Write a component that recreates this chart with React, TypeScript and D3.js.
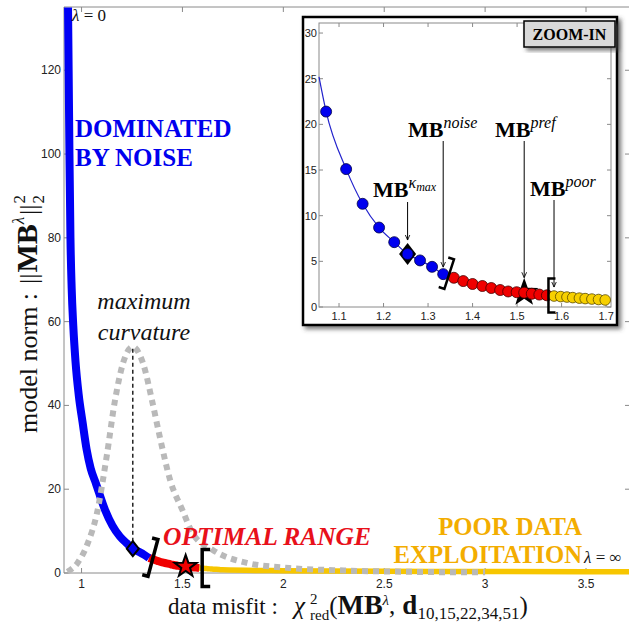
import React from 'react';
import * as d3 from 'd3';

// ---------- data ----------
const mainXTicks = [1, 1.5, 2, 2.5, 3, 3.5];
const mainYTicks = [0, 20, 40, 60, 80, 100, 120];
const insetXTicks = [1.1, 1.2, 1.3, 1.4, 1.5, 1.6, 1.7];
const insetYTicks = [0, 5, 10, 15, 20, 25, 30];

// steep (noise-dominated) part of the L-curve
const mainBlueSteep: [number, number][] = [
  [0.933, 135], [0.936, 120], [0.94, 100], [0.945, 80], [0.951, 68], [0.959, 59],
  [0.97, 50.5], [0.986, 42.5], [1.005, 36], [1.025, 29.5], [1.045, 25],
];
const insetLineStart: [number, number] = [1.055, 25.2];
const bluePoints: [number, number][] = [
  [1.071, 21.4], [1.116, 15.1], [1.153, 11.3], [1.19, 8.7], [1.224, 7.1],
  [1.254, 5.8], [1.282, 5.1], [1.309, 4.4], [1.334, 3.6],
];
const redPoints: [number, number][] = [
  [1.358, 3.2], [1.379, 2.84], [1.4, 2.52], [1.422, 2.3], [1.442, 2.08], [1.462, 1.86],
  [1.48, 1.7], [1.499, 1.62], [1.516, 1.57], [1.533, 1.45], [1.55, 1.36], [1.567, 1.28],
];
const yellowPoints: [number, number][] = [
  [1.583, 1.2], [1.598, 1.14], [1.612, 1.09], [1.625, 1.03], [1.64, 0.97],
  [1.653, 0.92], [1.668, 0.87], [1.683, 0.82], [1.698, 0.77],
];
const yellowTail: [number, number][] = [[2.0, 0.55], [2.5, 0.42], [3.0, 0.35], [3.5, 0.3], [3.72, 0.28]];
const curvature: [number, number][] = [
  [0.93, 0.3], [0.98, 2.4], [1.03, 7], [1.075, 14], [1.125, 28], [1.165, 41], [1.205, 50],
  [1.253, 54], [1.305, 50], [1.35, 41], [1.39, 32], [1.44, 22], [1.5, 15], [1.55, 9.5],
  [1.65, 5.5], [1.82, 2.4], [2.03, 1.2], [2.3, 0.6], [2.6, 0.3], [3.0, 0.15],
];
const kappaMax: [number, number] = [1.254, 5.8];
const prefPoint: [number, number] = [1.516, 1.57];
const noisePoint: [number, number] = [1.334, 3.6];
const poorPoint: [number, number] = [1.583, 1.2];

// ---------- helpers ----------
const SERIF = '"Liberation Serif", "Times New Roman", serif';
const SANS = '"Liberation Sans", Arial, sans-serif';

function starPath(R: number, r: number) {
  const pts: string[] = [];
  for (let i = 0; i < 10; i++) {
    const a = -Math.PI / 2 + (i * Math.PI) / 5;
    const rad = i % 2 === 0 ? R : r;
    pts.push(`${(rad * Math.cos(a)).toFixed(2)},${(rad * Math.sin(a)).toFixed(2)}`);
  }
  return 'M' + pts.join('L') + 'Z';
}
const closeBracket = (h: number, s: number) => `M${-s},${-h}L0,${-h}L0,${h}L${-s},${h}`;
const openBracket = (h: number, s: number) => `M${s},${-h}L0,${-h}L0,${h}L${s},${h}`;

export default function App() {
  // main scales
  const x = d3.scaleLinear().domain([0.913, 3.718]).range([64, 630]);
  const y = d3.scaleLinear().domain([0, 135.1]).range([573, 7]);
  // inset scales
  const xi = d3.scaleLinear().domain([1.055, 1.711]).range([319, 611]);
  const yi = d3.scaleLinear().domain([0, 31.1]).range([307, 23]);

  const line = d3.line<[number, number]>().x(d => x(d[0])).y(d => y(d[1])).curve(d3.curveMonotoneX);
  const lineI = d3.line<[number, number]>().x(d => xi(d[0])).y(d => yi(d[1])).curve(d3.curveMonotoneX);

  const bluePath = line([...mainBlueSteep, ...bluePoints]) || '';
  const redPath = line([bluePoints[bluePoints.length - 1], ...redPoints, yellowPoints[0]]) || '';
  const yellowPath = line([...yellowPoints, ...yellowTail]) || '';
  const curvPath = line(curvature) || '';
  const insetPath = lineI([insetLineStart, ...bluePoints, ...redPoints, ...yellowPoints]) || '';

  const axisGray = '#8a8a8a';

  return (
    <svg width={629} height={629} style={{ position: 'absolute', left: 0, top: 0, background: '#fff' }}>
      <defs>
        <filter id="shadow" x="-10%" y="-10%" width="130%" height="130%">
          <feDropShadow dx="3" dy="3" stdDeviation="2" floodColor="#444" floodOpacity="0.7" />
        </filter>
        <marker id="arrow" viewBox="0 0 10 10" refX="9" refY="5" markerWidth="6" markerHeight="6" orient="auto">
          <path d="M0,1L9,5L0,9" fill="none" stroke="#000" strokeWidth="1.4" />
        </marker>
      </defs>
      <rect width={629} height={629} fill="#fff" />

      {/* ---------- main axes ---------- */}
      <g>
        <line x1={x.range()[0]} x2={x.range()[1]} y1={y(0)} y2={y(0)} stroke={axisGray} strokeWidth={1} />
        <line x1={x.range()[0]} x2={x.range()[1]} y1={y.range()[1]} y2={y.range()[1]} stroke={axisGray} strokeWidth={1} />
        <line x1={x.range()[0]} x2={x.range()[0]} y1={y.range()[0]} y2={y.range()[1]} stroke={axisGray} strokeWidth={1} />
        <line x1={x.range()[1]} x2={x.range()[1]} y1={y.range()[0]} y2={y.range()[1]} stroke={axisGray} strokeWidth={1} />
        {mainXTicks.map(t => (
          <g key={'mx' + t}>
            <line x1={x(t)} x2={x(t)} y1={y(0)} y2={y(0) - 5} stroke={axisGray} />
            <line x1={x(t)} x2={x(t)} y1={y.range()[1]} y2={y.range()[1] + 5} stroke={axisGray} />
            <text x={x(t)} y={y(0) + 15} textAnchor="middle" fontFamily={SANS} fontSize={12} fill="#222">{t}</text>
          </g>
        ))}
        {mainYTicks.map(t => (
          <g key={'my' + t}>
            <line x1={x.range()[0]} x2={x.range()[0] + 5} y1={y(t)} y2={y(t)} stroke={axisGray} />
            <line x1={x.range()[1]} x2={x.range()[1] - 5} y1={y(t)} y2={y(t)} stroke={axisGray} />
            <text x={x.range()[0] - 3} y={y(t) + 4} textAnchor="end" fontFamily={SANS} fontSize={12} fill="#222">{t}</text>
          </g>
        ))}
      </g>

      {/* ---------- main curves ---------- */}
      <path d={yellowPath} fill="none" stroke="#f7c600" strokeWidth={5.5} strokeLinecap="butt" />
      <path d={redPath} fill="none" stroke="#f00000" strokeWidth={8} strokeLinecap="butt" />
      <path d={bluePath} fill="none" stroke="#0000f5" strokeWidth={8} strokeLinecap="butt" />
      <path d={curvPath} fill="none" stroke="#b9b9b9" strokeWidth={6} strokeDasharray="6 5" />
      <line x1={x(kappaMax[0])} x2={x(kappaMax[0])} y1={y(kappaMax[1])} y2={y(54)} stroke="#000" strokeWidth={1.3} strokeDasharray="4 3" />

      {/* markers */}
      <path d="M0,-7.5L6,0L0,7.5L-6,0Z" transform={`translate(${x(kappaMax[0])},${y(kappaMax[1])})`} fill="#0000f5" stroke="#000" strokeWidth={2} />
      <path d={starPath(11.5, 4.6)} transform={`translate(${x(prefPoint[0])},${y(prefPoint[1])})`} fill="#f00000" stroke="#000" strokeWidth={2} strokeLinejoin="miter" />
      <path d={closeBracket(19, 6)} transform={`translate(${x(noisePoint[0]) + 4},${y(noisePoint[1])}) rotate(15)`} fill="none" stroke="#000" strokeWidth={3.5} />
      <path d={openBracket(18.5, 8)} transform={`translate(${x(poorPoint[0]) + 3},${y(poorPoint[1])})`} fill="none" stroke="#000" strokeWidth={3.5} />

      {/* main texts */}
      <text x={72} y={21} fontFamily={SERIF} fontSize={17} fill="#111"><tspan fontStyle="italic">λ</tspan> = 0</text>
      <text x={584} y={563} fontFamily={SERIF} fontSize={17} fill="#111"><tspan fontStyle="italic">λ</tspan> = ∞</text>
      <text fontFamily={SERIF} fontSize={25} fontWeight="bold" fill="#0000ee">
        <tspan x={75} y={137}>DOMINATED</tspan>
        <tspan x={75} y={166}>BY NOISE</tspan>
      </text>
      <text fontFamily={SERIF} fontSize={24} fontStyle="italic" fill="#111" textAnchor="middle">
        <tspan x={144} y={309}>maximum</tspan>
        <tspan x={144} y={340}>curvature</tspan>
      </text>
      <text x={163} y={545} fontFamily={SERIF} fontSize={25.5} fontWeight="bold" fontStyle="italic" fill="#e8101a">OPTIMAL RANGE</text>
      <text fontFamily={SERIF} fontSize={24.7} fontWeight="bold" fill="#f3ad00" textAnchor="end">
        <tspan x={582} y={535}>POOR DATA</tspan>
        <tspan x={582} y={563}>EXPLOITATION</tspan>
      </text>

      {/* axis labels */}
      <text transform="translate(37,0) rotate(-90)" y={0} fontFamily={SERIF} fontSize={26} fill="#111">
        <tspan x={-433}>model norm :</tspan>
        <tspan x={-284}>||</tspan>
        <tspan fontWeight="bold" fontSize={30} dx={1}>MB</tspan>
        <tspan fontStyle="italic" fontSize={17} dy={-13}>λ</tspan>
        <tspan dy={13} dx={2}>||</tspan>
        <tspan fontSize={17} dy={-12} dx={1}>2</tspan>
        <tspan fontSize={17} dx={-8.5} dy={19}>2</tspan>
      </text>
      <text y={614} fontFamily={SERIF} fontSize={23} fill="#111">
        <tspan x={168}>data misfit :</tspan>
        <tspan x={294} fontStyle="italic" fontSize={25}>χ</tspan>
        <tspan x={310} dy={-10} fontSize={15}>2</tspan>
        <tspan x={310} dy={16} fontSize={15}>red</tspan>
        <tspan dy={-6} fontSize={25}>(</tspan>
        <tspan fontWeight="bold" fontSize={28}>MB</tspan>
        <tspan fontStyle="italic" fontSize={15} dy={-9}>λ</tspan>
        <tspan dy={9} fontSize={25}>,</tspan>
        <tspan dx={7} fontWeight="bold" fontSize={27}>d</tspan>
        <tspan dy={5} fontSize={17}>10,15,22,34,51</tspan>
        <tspan dy={-5} fontSize={25}>)</tspan>
      </text>

      {/* ---------- inset ---------- */}
      <g>
        <rect x={303} y={17} width={314} height={308} fill="#fff" stroke="#000" strokeWidth={2.5} filter="url(#shadow)" />
        <rect x={xi.range()[0]} y={yi.range()[1]} width={xi.range()[1] - xi.range()[0]} height={yi.range()[0] - yi.range()[1]} fill="none" stroke={axisGray} strokeWidth={1} />
        {insetXTicks.map(t => (
          <g key={'ix' + t}>
            <line x1={xi(t)} x2={xi(t)} y1={yi(0)} y2={yi(0) - 4} stroke={axisGray} />
            <line x1={xi(t)} x2={xi(t)} y1={yi.range()[1]} y2={yi.range()[1] + 4} stroke={axisGray} />
            <text x={xi(t)} y={yi(0) + 13} textAnchor="middle" fontFamily={SANS} fontSize={11} fill="#222">{t}</text>
          </g>
        ))}
        {insetYTicks.map(t => (
          <g key={'iy' + t}>
            <line x1={xi.range()[0]} x2={xi.range()[0] + 4} y1={yi(t)} y2={yi(t)} stroke={axisGray} />
            <line x1={xi.range()[1]} x2={xi.range()[1] - 4} y1={yi(t)} y2={yi(t)} stroke={axisGray} />
            <text x={xi.range()[0] - 2} y={yi(t) + 4} textAnchor="end" fontFamily={SANS} fontSize={11} fill="#222">{t}</text>
          </g>
        ))}
        <path d={insetPath} fill="none" stroke="#2222cc" strokeWidth={1.2} />
        <path d="M0,-11L8.5,0L0,11L-8.5,0Z" transform={`translate(${xi(kappaMax[0])},${yi(kappaMax[1])})`} fill="#000" />
        <path d={starPath(15, 6)} transform={`translate(${xi(prefPoint[0])},${yi(prefPoint[1])})`} fill="#000" />
        {bluePoints.map((p, i) => (
          <circle key={'b' + i} cx={xi(p[0])} cy={yi(p[1])} r={5.5} fill="#0000f0" stroke="#000044" strokeWidth={0.8} />
        ))}
        {redPoints.map((p, i) => (
          <circle key={'r' + i} cx={xi(p[0])} cy={yi(p[1])} r={5.5} fill="#f00000" stroke="#440000" strokeWidth={0.8} />
        ))}
        {yellowPoints.map((p, i) => (
          <circle key={'y' + i} cx={xi(p[0])} cy={yi(p[1])} r={5.3} fill="#f7d000" stroke="#5a4a00" strokeWidth={0.8} />
        ))}
        <path d={closeBracket(15.5, 6)} transform={`translate(${xi(noisePoint[0]) + 6},${yi(noisePoint[1])}) rotate(18)`} fill="none" stroke="#000" strokeWidth={2.5} />
        <path d={openBracket(17, 7)} transform={`translate(${xi(1.575) - 2},${yi(1.25)})`} fill="none" stroke="#000" strokeWidth={2.5} />

        {/* arrows */}
        <line x1={xi(kappaMax[0])} x2={xi(kappaMax[0])} y1={202} y2={yi(kappaMax[1]) - 14} stroke="#000" strokeWidth={1} markerEnd="url(#arrow)" />
        <line x1={xi(noisePoint[0])} x2={xi(noisePoint[0])} y1={141} y2={yi(noisePoint[1]) - 7} stroke="#000" strokeWidth={1} markerEnd="url(#arrow)" />
        <line x1={xi(prefPoint[0])} x2={xi(prefPoint[0])} y1={141} y2={yi(prefPoint[1]) - 15} stroke="#000" strokeWidth={1} markerEnd="url(#arrow)" />
        <line x1={xi(poorPoint[0])} x2={xi(poorPoint[0])} y1={200} y2={yi(poorPoint[1]) - 9} stroke="#000" strokeWidth={1} markerEnd="url(#arrow)" />

        {/* annotations */}
        <text x={373} y={197} fontFamily={SERIF} fontSize={22} fontWeight="bold" fill="#000">MB<tspan fontWeight="normal" fontStyle="italic" fontSize={16} dy={-9}>κ</tspan><tspan fontWeight="normal" fontStyle="italic" fontSize={12} dy={3}>max</tspan></text>
        <text x={408} y={137} fontFamily={SERIF} fontSize={22} fontWeight="bold" fill="#000">MB<tspan fontWeight="normal" fontStyle="italic" fontSize={16} dy={-9}>noise</tspan></text>
        <text x={495} y={137} fontFamily={SERIF} fontSize={22} fontWeight="bold" fill="#000">MB<tspan fontWeight="normal" fontStyle="italic" fontSize={16} dy={-9}>pref</tspan></text>
        <text x={530} y={196} fontFamily={SERIF} fontSize={22} fontWeight="bold" fill="#000">MB<tspan fontWeight="normal" fontStyle="italic" fontSize={16} dy={-9}>poor</tspan></text>

        <rect x={524} y={21} width={91} height={26} fill="#d9d9d9" stroke="#000" strokeWidth={1.5} filter="url(#shadow)" />
        <text x={569.5} y={39.5} textAnchor="middle" fontFamily={SERIF} fontSize={16} fontWeight="bold" fill="#000">ZOOM-IN</text>
      </g>
    </svg>
  );
}
